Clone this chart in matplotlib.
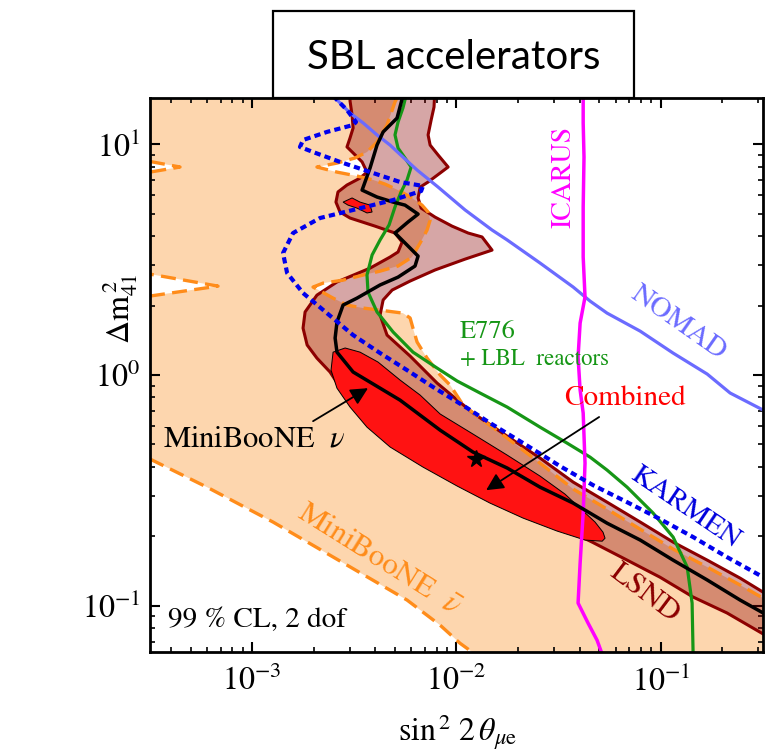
import numpy as np
import matplotlib
matplotlib.use("Agg")
import matplotlib.pyplot as plt
from matplotlib.patches import Polygon, Rectangle
from matplotlib.ticker import LogLocator, NullFormatter

plt.rcParams["mathtext.fontset"] = "stix"
plt.rcParams["font.family"] = ["STIXGeneral", "DejaVu Serif"]

# Axis range in log10 units
X_LO, X_HI = -3.5, -0.5
Y_LO, Y_HI = -1.2, 1.2

# All contours below are given as log10(sin^2 2theta_mue), log10(dm^2_41 / eV^2)

# MiniBooNE anti-nu allowed region: upper/right boundary (top edge -> right edge)
mbbar_edge_x = [-2.291, -2.301, -2.340, -2.389, -2.438, -2.497, -2.585, -2.683, -2.585, -2.487,
                -2.408, -2.350, -2.286, -2.218, -2.169, -2.139, -2.129, -2.144, -2.178, -2.218,
                -2.286, -2.374, -2.457, -2.555, -2.653, -2.702, -2.604, -2.536, -2.457, -2.374,
                -2.262, -2.227, -2.213, -2.193, -2.144, -2.080, -2.031, -1.968, -1.885, -1.752,
                -1.591, -1.429, -1.263, -1.101, -0.940, -0.773, -0.612, -0.499]
mbbar_edge_y = [1.200, 1.183, 1.083, 1.009, 0.966, 0.940, 0.918, 0.901, 0.879, 0.862,
                0.845, 0.827, 0.801, 0.767, 0.736, 0.706, 0.671, 0.628, 0.572, 0.511,
                0.472, 0.450, 0.433, 0.411, 0.398, 0.381, 0.333, 0.303, 0.290, 0.281,
                0.268, 0.247, 0.203, 0.143, 0.073, 0.000, -0.044, -0.130, -0.187, -0.273,
                -0.382, -0.494, -0.581, -0.668, -0.754, -0.832, -0.910, -0.967]
# lower boundary (left edge -> bottom edge)
mbbar_low_x = [-3.5, -3.221, -2.898, -2.570, -2.242, -2.080, -1.983, -1.924]
mbbar_low_y = [-0.364, -0.486, -0.637, -0.806, -0.975, -1.084, -1.162, -1.200]
# two excluded wedges entering from the left edge
mbbar_notch1_x = [-3.5, -3.353, -3.5]
mbbar_notch1_y = [0.925, 0.901, 0.879]
mbbar_notch2_x = [-3.5, -3.167, -3.5]
mbbar_notch2_y = [0.342, 0.385, 0.437]

# LSND allowed region (closed contour)
lsnd_x = [-2.521, -2.105, -2.110, -2.124, -2.139, -2.129, -2.090, -2.041, -2.080, -2.139,
          -2.178, -2.188, -2.173, -2.105, -2.022, -1.943, -1.875, -1.826, -1.958, -2.105,
          -2.227, -2.315, -2.359, -2.374, -2.340, -2.227, -2.095, -1.919, -1.752, -1.591,
          -1.429, -1.263, -1.101, -0.940, -0.773, -0.612, -0.499, -0.45, -0.45, -0.499,
          -0.676, -0.842, -1.004, -1.165, -1.336, -1.508, -1.674, -1.836, -1.997, -2.164,
          -2.325, -2.448, -2.545, -2.619, -2.683, -2.731, -2.751, -2.741, -2.683, -2.585,
          -2.423, -2.325, -2.286, -2.266, -2.301, -2.399, -2.521, -2.570, -2.590, -2.580,
          -2.536, -2.472, -2.438, -2.462, -2.506, -2.536, -2.521, -2.506, -2.511, -2.521]
lsnd_y = [1.25, 1.25, 1.161, 1.105, 1.040, 0.996, 0.953, 0.901, 0.875, 0.836,
          0.814, 0.767, 0.723, 0.684, 0.645, 0.615, 0.598, 0.541, 0.502, 0.455,
          0.407, 0.368, 0.325, 0.260, 0.173, 0.082, -0.035, -0.165, -0.265, -0.360,
          -0.464, -0.551, -0.637, -0.724, -0.802, -0.880, -0.941, -0.965, -1.147, -1.122,
          -1.031, -0.962, -0.876, -0.802, -0.724, -0.650, -0.585, -0.520, -0.447, -0.369,
          -0.282, -0.187, -0.087, 0.013, 0.073, 0.130, 0.203, 0.273, 0.346, 0.403,
          0.463, 0.511, 0.533, 0.576, 0.615, 0.645, 0.680, 0.706, 0.749, 0.793,
          0.823, 0.853, 0.879, 0.923, 0.962, 0.988, 1.027, 1.070, 1.126, 1.187]

# Combined SBL-accelerator region: main island and small island
comb_x = [-2.604, -2.545, -2.472, -2.384, -2.276, -2.178, -2.080, -1.919, -1.752, -1.591,
          -1.469, -1.395, -1.322, -1.283, -1.273, -1.287, -1.371, -1.508, -1.674, -1.836,
          -1.997, -2.164, -2.325, -2.438, -2.521, -2.585, -2.614]
comb_y = [0.099, 0.117, 0.099, 0.056, -0.022, -0.087, -0.169, -0.256, -0.347, -0.438,
          -0.516, -0.577, -0.637, -0.681, -0.707, -0.720, -0.715, -0.676, -0.620, -0.555,
          -0.481, -0.399, -0.312, -0.226, -0.139, -0.057, 0.021]
comb_isle_x = [-2.555, -2.511, -2.472, -2.423, -2.413, -2.438, -2.487, -2.531]
comb_isle_y = [0.749, 0.767, 0.749, 0.736, 0.706, 0.702, 0.723, 0.736]

# best-fit point of the combined analysis
best_fit_s2 = 0.0125
best_fit_dm2 = 0.432

# MiniBooNE nu contour
mbnu_x = [-2.262, -2.291, -2.359, -2.389, -2.423, -2.462, -2.389, -2.310, -2.252, -2.188,
          -2.237, -2.301, -2.252, -2.188, -2.203, -2.286, -2.374, -2.487, -2.555, -2.585,
          -2.594, -2.585, -2.506, -2.423, -2.276, -2.178, -2.080, -1.919, -1.752, -1.591,
          -1.429, -1.263, -1.101, -0.940, -0.773, -0.612, -0.499]
mbnu_y = [1.21, 1.113, 1.053, 0.996, 0.897, 0.801, 0.771, 0.749, 0.736, 0.697,
          0.663, 0.615, 0.572, 0.515, 0.472, 0.424, 0.390, 0.333, 0.303, 0.229,
          0.160, 0.099, 0.013, -0.031, -0.109, -0.174, -0.239, -0.334, -0.403, -0.486,
          -0.555, -0.642, -0.715, -0.802, -0.888, -0.975, -1.031]

# KARMEN exclusion limit
karmen_x = [-2.604, -2.536, -2.492, -2.506, -2.634, -2.751, -2.766, -2.702, -2.570, -2.408,
            -2.276, -2.164, -2.173, -2.310, -2.506, -2.668, -2.800, -2.849, -2.829, -2.751,
            -2.634, -2.506, -2.374, -2.242, -2.115, -1.948, -1.836, -1.674, -1.493, -1.332,
            -1.165, -1.004, -0.842, -0.676, -0.499]
karmen_y = [1.209, 1.148, 1.096, 1.083, 1.053, 1.018, 0.988, 0.966, 0.923, 0.875,
            0.836, 0.819, 0.797, 0.758, 0.715, 0.680, 0.615, 0.528, 0.442, 0.355,
            0.268, 0.173, 0.095, 0.021, -0.052, -0.143, -0.208, -0.295, -0.395, -0.477,
            -0.551, -0.624, -0.702, -0.789, -0.876]

# E776 + LBL reactors exclusion limit
e776_x = [-2.247, -2.262, -2.286, -2.301, -2.286, -2.252, -2.222, -2.242, -2.271, -2.301,
          -2.330, -2.374, -2.413, -2.438, -2.433, -2.389, -2.310, -2.213, -2.095, -1.997,
          -1.885, -1.752, -1.591, -1.459, -1.346, -1.263, -1.165, -1.038, -0.940, -0.871,
          -0.847, -0.842]
e776_y = [1.21, 1.157, 1.096, 1.040, 0.983, 0.940, 0.901, 0.845, 0.793, 0.728,
          0.650, 0.585, 0.520, 0.433, 0.359, 0.273, 0.186, 0.099, 0.030, -0.026,
          -0.078, -0.139, -0.226, -0.295, -0.356, -0.412, -0.486, -0.598, -0.702, -0.832,
          -0.988, -1.21]

# NOMAD exclusion limit
nomad_x = [-2.604, -2.521, -2.457, -2.389, -2.325, -2.262, -2.193, -2.090, -1.958, -1.826,
           -1.752, -1.591, -1.429, -1.346, -1.263, -1.101, -0.940, -0.773, -0.661, -0.499]
nomad_y = [1.209, 1.135, 1.092, 1.040, 0.996, 0.944, 0.888, 0.814, 0.715, 0.628,
           0.585, 0.485, 0.381, 0.320, 0.268, 0.190, 0.095, 0.004, -0.078, -0.152]

# ICARUS exclusion limit
icarus_x = [-1.380, -1.380, -1.376, -1.380, -1.380, -1.371, -1.395, -1.405, -1.395, -1.380,
            -1.371, -1.380, -1.395, -1.405, -1.356, -1.312, -1.287]
icarus_y = [1.21, 1.092, 0.944, 0.728, 0.511, 0.338, 0.225, 0.078, -0.065, -0.165,
            -0.382, -0.598, -0.815, -0.988, -1.075, -1.149, -1.21]


def lin(v):
    return 10.0 ** np.asarray(v, dtype=float)


fig = plt.figure(figsize=(7.79, 7.52), dpi=100)
ax = fig.add_axes([0.19255, 0.13298, 0.78691, 0.73670])
ax.set_xscale("log")
ax.set_yscale("log")
ax.set_xlim(10 ** X_LO, 10 ** X_HI)
ax.set_ylim(10 ** Y_LO, 10 ** Y_HI)

PEACH = "#FDD6AE"
ORANGE = "#FF8C1A"
DARKRED = "#8C0000"

# MiniBooNE anti-nu filled region
fill_x = np.concatenate([[X_LO - 0.1, mbbar_edge_x[0]], mbbar_edge_x,
                         [X_HI + 0.1, X_HI + 0.1], mbbar_low_x[::-1],
                         mbbar_notch2_x, mbbar_notch1_x[::-1], [X_LO - 0.1]])
fill_y = np.concatenate([[Y_HI + 0.1, Y_HI + 0.1], mbbar_edge_y,
                         [mbbar_edge_y[-1], Y_LO - 0.1], mbbar_low_y[::-1],
                         mbbar_notch2_y, mbbar_notch1_y[::-1], [Y_HI + 0.1]])
ax.add_patch(Polygon(np.column_stack([lin(fill_x), lin(fill_y)]), closed=True,
                     facecolor=PEACH, edgecolor="none", zorder=1))

# LSND region
lsnd_xy = np.column_stack([lin(lsnd_x), lin(lsnd_y)])
ax.add_patch(Polygon(lsnd_xy, closed=True, facecolor=(0.55, 0.0, 0.0, 0.35),
                     edgecolor="none", zorder=2))
ax.add_patch(Polygon(lsnd_xy, closed=True, facecolor="none", edgecolor=DARKRED,
                     lw=2.2, zorder=3, joinstyle="round"))

# MiniBooNE anti-nu boundaries (dashed)
dash = dict(color=ORANGE, lw=2.4, ls=(0, (4.5, 2.2)), zorder=4)
ax.plot(lin(mbbar_edge_x), lin(mbbar_edge_y), **dash)
ax.plot(lin(mbbar_low_x), lin(mbbar_low_y), **dash)
ax.plot(lin(mbbar_notch1_x), lin(mbbar_notch1_y), **dash)
ax.plot(lin(mbbar_notch2_x), lin(mbbar_notch2_y), **dash)

# Combined region
for cx, cy in ((comb_x, comb_y), (comb_isle_x, comb_isle_y)):
    ax.add_patch(Polygon(np.column_stack([lin(cx), lin(cy)]), closed=True,
                         facecolor="#FF1212", edgecolor="k", lw=0.7, zorder=5))

# Exclusion limits and MiniBooNE nu
ax.plot(lin(e776_x), lin(e776_y), color="#169616", lw=2.3, zorder=6)
ax.plot(lin(nomad_x), lin(nomad_y), color="#6B6BFF", lw=2.3, zorder=6)
ax.plot(lin(icarus_x), lin(icarus_y), color="#FF00FF", lw=2.5, zorder=6)
ax.plot(lin(mbnu_x), lin(mbnu_y), color="k", lw=2.5, zorder=7)
ax.plot(lin(karmen_x), lin(karmen_y), color="#0000EE", lw=3.0,
        ls=(0, (1.5, 1.0)), zorder=8)

ax.plot([best_fit_s2], [best_fit_dm2], marker="*", color="k", ms=13, zorder=9)

# Labels
ax.text(10 ** -3.436, 10 ** -0.282, r"MiniBooNE  $\nu$", fontsize=22,
        ha="left", va="center", zorder=10)
ax.annotate("", xy=(10 ** -2.433, 10 ** -0.057), xytext=(10 ** -2.702, 10 ** -0.200),
            arrowprops=dict(arrowstyle="-|>", color="k", lw=1.3, mutation_scale=26,
                            shrinkA=0, shrinkB=0), zorder=10)
ax.text(10 ** -1.175, 10 ** -0.100, "Combined", fontsize=21, color="#FF0000",
        ha="center", va="center", zorder=10)
ax.annotate("", xy=(10 ** -1.855, 10 ** -0.499), xytext=(10 ** -1.302, 10 ** -0.182),
            arrowprops=dict(arrowstyle="-|>", color="k", lw=1.3, mutation_scale=26,
                            shrinkA=0, shrinkB=0), zorder=10)
ax.text(10 ** -3.412, 10 ** -1.062, "99 % CL, 2 dof", fontsize=21,
        ha="left", va="center", zorder=10)
ax.text(10 ** -2.38, 10 ** -0.80, r"MiniBooNE  $\bar{\nu}$", fontsize=22.5,
        color=ORANGE, rotation=-32, ha="center", va="center",
        rotation_mode="anchor", zorder=10)
ax.text(10 ** -1.077, 10 ** -0.945, "LSND", fontsize=22, color=DARKRED,
        rotation=-37, ha="center", va="center", rotation_mode="anchor", zorder=10)
ax.text(10 ** -0.881, 10 ** -0.577, "KARMEN", fontsize=21, color="#0000DD",
        rotation=-34, ha="center", va="center", rotation_mode="anchor", zorder=10)
ax.text(10 ** -0.915, 10 ** 0.225, "NOMAD", fontsize=21, color="#6B6BFF",
        rotation=-35, ha="center", va="center", rotation_mode="anchor", zorder=10)
ax.text(10 ** -1.473, 10 ** 0.858, "ICARUS", fontsize=20, color="#FF00FF",
        rotation=90, ha="center", va="center", zorder=10)
ax.text(10 ** -1.983, 10 ** 0.186, "E776", fontsize=19, color="#169616",
        ha="left", va="center", zorder=10)
ax.text(10 ** -1.983, 10 ** 0.069, "+ LBL  reactors", fontsize=16.5, color="#169616",
        ha="left", va="center", zorder=10)

# Ticks and frame
ax.xaxis.set_major_locator(LogLocator(base=10, numticks=10))
ax.yaxis.set_major_locator(LogLocator(base=10, numticks=10))
ax.xaxis.set_minor_locator(LogLocator(base=10, subs=np.arange(2, 10), numticks=30))
ax.yaxis.set_minor_locator(LogLocator(base=10, subs=np.arange(2, 10), numticks=30))
ax.xaxis.set_minor_formatter(NullFormatter())
ax.yaxis.set_minor_formatter(NullFormatter())
ax.tick_params(which="major", direction="in", length=7, width=1.5, top=True,
               right=True, labelsize=23)
ax.tick_params(axis="x", which="major", pad=10)
ax.tick_params(axis="y", which="major", pad=7)
ax.tick_params(which="minor", direction="in", length=3.8, width=1.2, top=True,
               right=True)
for sp in ax.spines.values():
    sp.set_linewidth(2.0)
    sp.set_zorder(20)

fig.text(0.154, 0.590, r"$\Delta \mathrm{m}^{\,2}_{41}$", rotation=90,
         ha="center", va="center", fontsize=23)
fig.text(0.588, 0.026, r"$\mathrm{sin}^{\,2}\ 2\,\theta_{\mu\mathrm{e}}$",
         ha="center", va="center", fontsize=23)

# Title box
fig.add_artist(Rectangle((0.3505, 0.8697), 0.8139 - 0.3505, 0.9854 - 0.8697,
                         transform=fig.transFigure, facecolor="white",
                         edgecolor="k", lw=1.6, zorder=30))
fig.text(0.5822, 0.924, "SBL accelerators", family="Lato", fontsize=29,
         ha="center", va="center", zorder=31)

fig.savefig("out.png", dpi=100)
